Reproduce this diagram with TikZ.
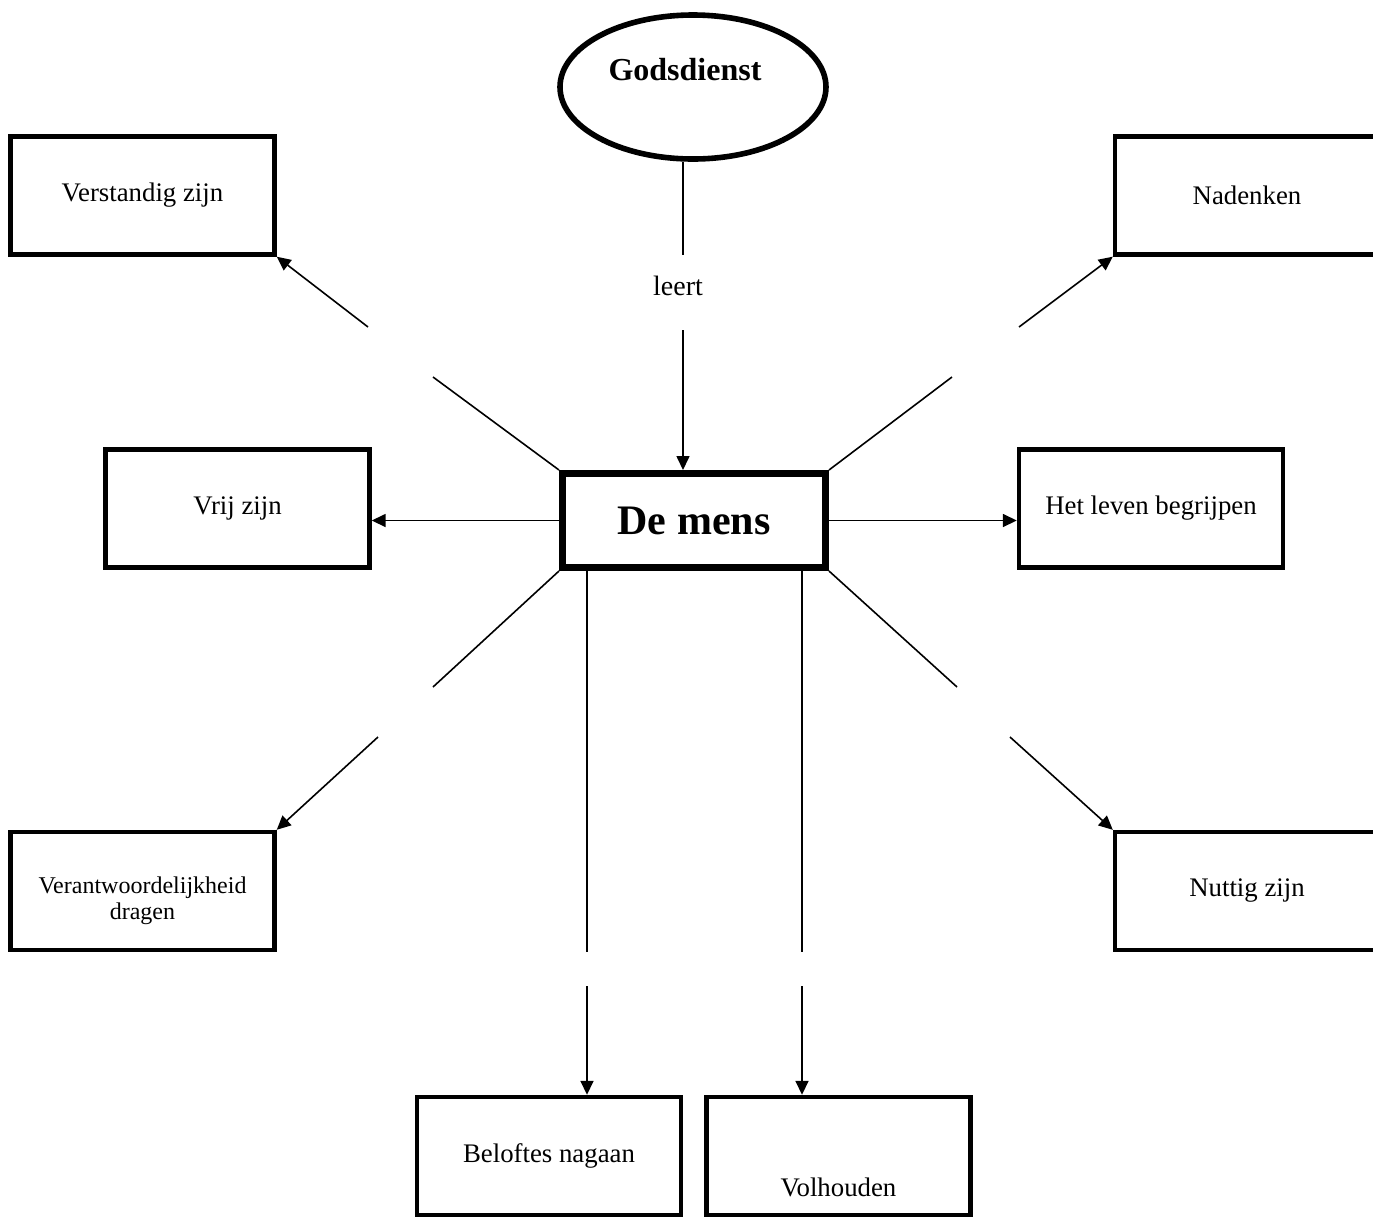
\documentclass[tikz,border=0pt]{standalone}
\usepackage{fontspec}
\setmainfont{Liberation Serif}
\usetikzlibrary{arrows.meta,positioning,shapes.geometric}
\tikzset{
  box/.style={
    rectangle,
    draw=black,
    line width=2.2pt,
    align=center,
    inner sep=0pt,
    minimum width=132pt,
    minimum height=59pt,
    font=\fontsize{13.4}{15}\selectfont
  },
  centerbox/.style={
    box,
    line width=3.5pt,
    minimum width=131.5pt,
    minimum height=47pt,
    font=\fontsize{21}{25}\selectfont\bfseries
  },
  topic/.style={
    ellipse,
    draw=black,
    line width=2.8pt,
    inner sep=0pt,
    minimum width=133pt,
    minimum height=72pt
  },
  txt/.style={
    align=center,
    inner sep=0pt,
    font=\fontsize{13.4}{15}\selectfont
  },
  link/.style={
    line width=0.8pt,
    draw=black
  },
  arrow/.style={
    link,
    -{Triangle[length=7pt,width=6.5pt]}
  }
}

\begin{document}
\begin{tikzpicture}[x=0.5pt,y=-0.5pt]
  \useasboundingbox (0,0) rectangle (1373,1217);
  \clip (0,0) rectangle (1373,1217);

  \node[topic] (gods) at (693,87) {};
  \node[txt, font=\fontsize{16}{19}\selectfont\bfseries] (godstxt) at (685,70) {Godsdienst};
  \node[txt, font=\fontsize{14}{17}\selectfont] (leert) at (678,286) {leert};
  \node[centerbox] (mens) at (694,520.5) {De mens};

  \node[box] (verst) at (142.5,195.5) {Verstandig zijn};
  \node[box] (naden) at (1247,195.5) {Nadenken};
  \node[box] (vrij) at (237.5,508.5) {Vrij zijn};
  \node[box] (leven) at (1151,508.5) {Het leven begrijpen};
  \node[box] (verant) at (142.5,891) {};
  \node[txt, font=\fontsize{12}{13}\selectfont] (veranttxt) at (142.5,901) {Verantwoordelijkheid\\dragen};
  \node[box] (nuttig) at (1247,891) {Nuttig zijn};
  \node[box] (belof) at (549,1156) {Beloftes nagaan};
  \node[box] (volh) at (838.5,1156) {};
  \node[txt] (volhtxt) at (838.5,1187) {Volhouden};

  % gaps in the connectors
  \coordinate (g1) at (683,255);
  \coordinate (g2) at (683,330);
  \coordinate (ul1) at (433,377);
  \coordinate (ul2) at (368,327);
  \coordinate (ur1) at (952,377);
  \coordinate (ur2) at (1019,327);
  \coordinate (ll1) at (433,687);
  \coordinate (ll2) at (378,737);
  \coordinate (lr1) at (957,687);
  \coordinate (lr2) at (1010,737);
  \coordinate (b1a) at (587,952);
  \coordinate (b1b) at (587,986);
  \coordinate (b2a) at (802,952);
  \coordinate (b2b) at (802,986);

  \draw[link] (gods.south -| g1) -- (g1);
  \draw[arrow] (g2) -- (g2 |- mens.north);

  \draw[link] (mens.north west) -- (ul1);
  \draw[arrow] (ul2) -- (verst.south east);
  \draw[link] (mens.north east) -- (ur1);
  \draw[arrow] (ur2) -- (naden.south west);
  \draw[arrow] (mens.west) -- (mens.west -| vrij.east);
  \draw[arrow] (mens.east) -- (mens.east -| leven.west);
  \draw[link] (mens.south west) -- (ll1);
  \draw[arrow] (ll2) -- (verant.north east);
  \draw[link] (mens.south east) -- (lr1);
  \draw[arrow] (lr2) -- (nuttig.north west);
  \draw[link] (mens.south -| b1a) -- (b1a);
  \draw[arrow] (b1b) -- (b1b |- belof.north);
  \draw[link] (mens.south -| b2a) -- (b2a);
  \draw[arrow] (b2b) -- (b2b |- volh.north);
\end{tikzpicture}
\end{document}
